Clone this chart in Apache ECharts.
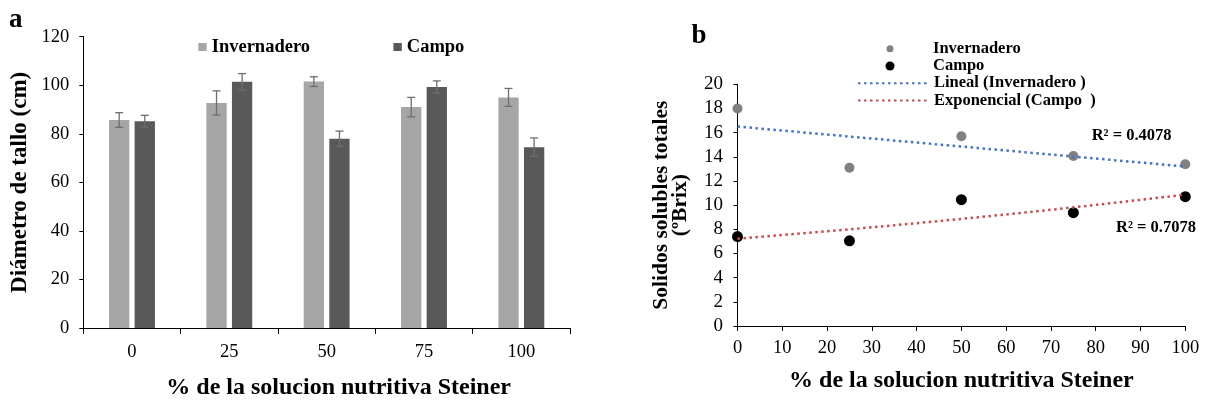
<!DOCTYPE html>
<html>
<head>
<meta charset="utf-8">
<script src="https://cdn.jsdelivr.net/npm/echarts@6/dist/echarts.min.js"></script>
<style>
html,body{margin:0;padding:0;background:#fff;}
#main{width:1206px;height:405px;}
</style>
</head>
<body>
<div id="main"></div>
<script>
// ---- Panel a: stem diameter (bars with error bars) ----
const categories = ['0', '25', '50', '75', '100'];
const invHeight = [85.7, 92.7, 101.5, 91.0, 95.0];
const invErr = [3.0, 5.0, 2.0, 4.0, 3.7];
const campoHeight = [85.2, 101.4, 78.0, 99.3, 74.5];
const campoErr = [2.4, 3.4, 3.1, 2.5, 3.8];

// ---- Panel b: total soluble solids (scatter + trend lines) ----
const doseX = [0, 25, 50, 75, 100];
const invBrix = [18.0, 13.1, 15.7, 14.07, 13.38];
const campoBrix = [7.4, 7.05, 10.45, 9.38, 10.7];
const r2Labels = ['R\u00b2 = 0.4078', 'R\u00b2 = 0.7078'];

const FONT = '"Liberation Serif", "Times New Roman", serif';

// least-squares fits (as the original spreadsheet trend lines)
function linFit(xs, ys) {
  const n = xs.length;
  const mx = xs.reduce((a, b) => a + b, 0) / n;
  const my = ys.reduce((a, b) => a + b, 0) / n;
  let sxy = 0, sxx = 0;
  for (let i = 0; i < n; i++) { sxy += (xs[i] - mx) * (ys[i] - my); sxx += (xs[i] - mx) * (xs[i] - mx); }
  const b = sxy / sxx;
  return { a: my - b * mx, b: b };
}
const invFit = linFit(doseX, invBrix);
const campoFitLn = linFit(doseX, campoBrix.map(v => Math.log(v)));
const xMin = doseX[0], xMax = doseX[doseX.length - 1];
const linTrend = [[xMin, invFit.a + invFit.b * xMin], [xMax, invFit.a + invFit.b * xMax]];
const expTrend = [];
for (let x = xMin; x <= xMax; x += 2) expTrend.push([x, Math.exp(campoFitLn.a + campoFitLn.b * x)]);

const barW = 20.3, barGapPx = 5.3;
const errOffset = (barW + barGapPx) / 2;

function errRender(sign) {
  return function (params, api) {
    const c = api.value(0), m = api.value(1), e = api.value(2);
    const top = api.coord([c, m + e]);
    const bot = api.coord([c, m - e]);
    const x = top[0] + sign * errOffset;
    const cap = 4;
    const st = { stroke: '#6e6e6e', lineWidth: 1.3 };
    return {
      type: 'group',
      children: [
        { type: 'line', shape: { x1: x, y1: top[1], x2: x, y2: bot[1] }, style: st },
        { type: 'line', shape: { x1: x - cap, y1: top[1], x2: x + cap, y2: top[1] }, style: st },
        { type: 'line', shape: { x1: x - cap, y1: bot[1], x2: x + cap, y2: bot[1] }, style: st }
      ]
    };
  };
}

const axisLabelStyle = { color: '#000', fontFamily: FONT, fontSize: 18.5 };
const legendText = (size, padLeft) => ({ color: '#000', fontFamily: FONT, fontWeight: 'bold', fontSize: size, padding: [0, 0, 0, padLeft || 0] });

const chart = echarts.init(document.getElementById('main'), null, { renderer: 'canvas' });
chart.setOption({
  animation: false,
  backgroundColor: '#fff',
  grid: [
    { left: 83.3, top: 36.7, width: 486.7, height: 294 },
    { left: 737.5, top: 84.3, width: 447.8, height: 241.7 }
  ],
  xAxis: [
    {
      type: 'category', gridIndex: 0, data: categories,
      axisLine: { lineStyle: { color: '#000', width: 1 } },
      axisTick: { show: true, length: 6, lineStyle: { color: '#000' } },
      axisLabel: Object.assign({ margin: 15 }, axisLabelStyle),
      name: '% de la solucion nutritiva Steiner', nameLocation: 'middle', nameGap: 48,
      nameTextStyle: { color: '#000', fontFamily: FONT, fontWeight: 'bold', fontSize: 24, padding: [0, 0, 0, 24] }
    },
    {
      type: 'value', gridIndex: 1, min: 0, max: 100, interval: 10,
      splitLine: { show: false },
      axisLine: { show: true, lineStyle: { color: '#000', width: 1 } },
      axisTick: { show: true, length: 5, lineStyle: { color: '#000' } },
      axisLabel: Object.assign({ margin: 12.5 }, axisLabelStyle),
      name: '% de la solucion nutritiva Steiner', nameLocation: 'middle', nameGap: 43,
      nameTextStyle: { color: '#000', fontFamily: FONT, fontWeight: 'bold', fontSize: 24 }
    }
  ],
  yAxis: [
    {
      type: 'value', gridIndex: 0, min: 0, max: 120, interval: 20,
      splitLine: { show: false },
      axisLine: { show: true, lineStyle: { color: '#000', width: 1 } },
      axisTick: { show: true, length: 4, lineStyle: { color: '#000' } },
      axisLabel: Object.assign({ margin: 14 }, axisLabelStyle),
      name: 'Diámetro de tallo (cm)', nameLocation: 'middle', nameGap: 52, nameRotate: 90,
      nameTextStyle: { color: '#000', fontFamily: FONT, fontWeight: 'bold', fontSize: 23 }
    },
    {
      type: 'value', gridIndex: 1, min: 0, max: 20, interval: 2,
      splitLine: { show: false },
      axisLine: { show: true, lineStyle: { color: '#000', width: 1 } },
      axisTick: { show: true, length: 4, lineStyle: { color: '#000' } },
      axisLabel: Object.assign({}, axisLabelStyle, { margin: 14.4, fontSize: 19 }),
      name: 'Solidos solubles totales\n(ºBrix)', nameLocation: 'middle', nameGap: 47, nameRotate: 90,
      nameTextStyle: { color: '#000', fontFamily: FONT, fontWeight: 'bold', fontSize: 21.5, lineHeight: 19.5 }
    }
  ],
  legend: [
    { selectedMode: false, padding: 0, left: 198.3, top: 37.5, itemWidth: 8.4, itemHeight: 8,
      data: [{ name: 'Invernadero', icon: 'rect', itemStyle: { color: '#a6a6a6' } }], textStyle: legendText(18.5) },
    { selectedMode: false, padding: 0, left: 393.4, top: 37.5, itemWidth: 8.4, itemHeight: 8,
      data: [{ name: 'Campo', icon: 'rect', itemStyle: { color: '#595959' } }], textStyle: legendText(18.5) },
    { selectedMode: false, padding: 0, left: 886.5, top: 40.2, itemWidth: 7, itemHeight: 7,
      data: [{ name: 'Invernadero', icon: 'circle', itemStyle: { color: '#808080' } }], textStyle: legendText(16.5, 34.5) },
    { selectedMode: false, padding: 0, left: 885.5, top: 57.5, itemWidth: 9, itemHeight: 9,
      data: [{ name: 'Campo', icon: 'circle', itemStyle: { color: '#000' } }], textStyle: legendText(16.5, 33.5) },
    { selectedMode: false, padding: 0, left: 857, top: 74.7, itemWidth: 71, itemHeight: 8,
      data: [{ name: 'Lineal (Invernadero )', itemStyle: { opacity: 0 } }], textStyle: legendText(16.5) },
    { selectedMode: false, padding: 0, left: 857, top: 92, itemWidth: 71, itemHeight: 8,
      data: [{ name: 'Exponencial (Campo  )', itemStyle: { opacity: 0 } }], textStyle: legendText(16.5) }
  ],
  series: [
    { name: 'Invernadero', type: 'bar', xAxisIndex: 0, yAxisIndex: 0, data: invHeight,
      barWidth: barW, barGap: (barGapPx / barW * 100).toFixed(1) + '%', itemStyle: { color: '#a6a6a6' } },
    { name: 'Campo', type: 'bar', xAxisIndex: 0, yAxisIndex: 0, data: campoHeight,
      barWidth: barW, itemStyle: { color: '#595959' } },
    { type: 'custom', xAxisIndex: 0, yAxisIndex: 0, z: 5, renderItem: errRender(-1),
      data: invHeight.map((v, i) => [i, v, invErr[i]]), encode: { x: 0, y: 1 } },
    { type: 'custom', xAxisIndex: 0, yAxisIndex: 0, z: 5, renderItem: errRender(1),
      data: campoHeight.map((v, i) => [i, v, campoErr[i]]), encode: { x: 0, y: 1 } },
    { name: 'Invernadero', type: 'scatter', xAxisIndex: 1, yAxisIndex: 1, symbolSize: 10,
      data: doseX.map((x, i) => [x, invBrix[i]]), itemStyle: { color: '#808080', opacity: 1 }, z: 2 },
    { name: 'Campo', type: 'scatter', xAxisIndex: 1, yAxisIndex: 1, symbolSize: 11,
      data: doseX.map((x, i) => [x, campoBrix[i]]), itemStyle: { color: '#000', opacity: 1 }, z: 2 },
    { name: 'Lineal (Invernadero )', type: 'line', xAxisIndex: 1, yAxisIndex: 1, data: linTrend,
      symbol: 'none', z: 3, lineStyle: { color: '#4472c4', width: 2.5, type: [2.5, 3.5] } },
    { name: 'Exponencial (Campo  )', type: 'line', xAxisIndex: 1, yAxisIndex: 1, data: expTrend,
      symbol: 'none', z: 3, lineStyle: { color: '#c0504d', width: 2.5, type: [2.5, 3.5] } }
  ],
  graphic: [
    { type: 'text', x: 9, y: 20, style: { text: 'a', fill: '#000', font: 'bold 27px ' + FONT, verticalAlign: 'middle' } },
    { type: 'text', x: 691.5, y: 36, style: { text: 'b', fill: '#000', font: 'bold 27px ' + FONT, verticalAlign: 'middle' } },
    { type: 'text', x: 1091.7, y: 136, style: { text: r2Labels[0], fill: '#000', font: 'bold 16.5px ' + FONT, verticalAlign: 'middle' } },
    { type: 'text', x: 1116, y: 227.3, style: { text: r2Labels[1], fill: '#000', font: 'bold 16.5px ' + FONT, verticalAlign: 'middle' } }
  ]
});
</script>
</body>
</html>
